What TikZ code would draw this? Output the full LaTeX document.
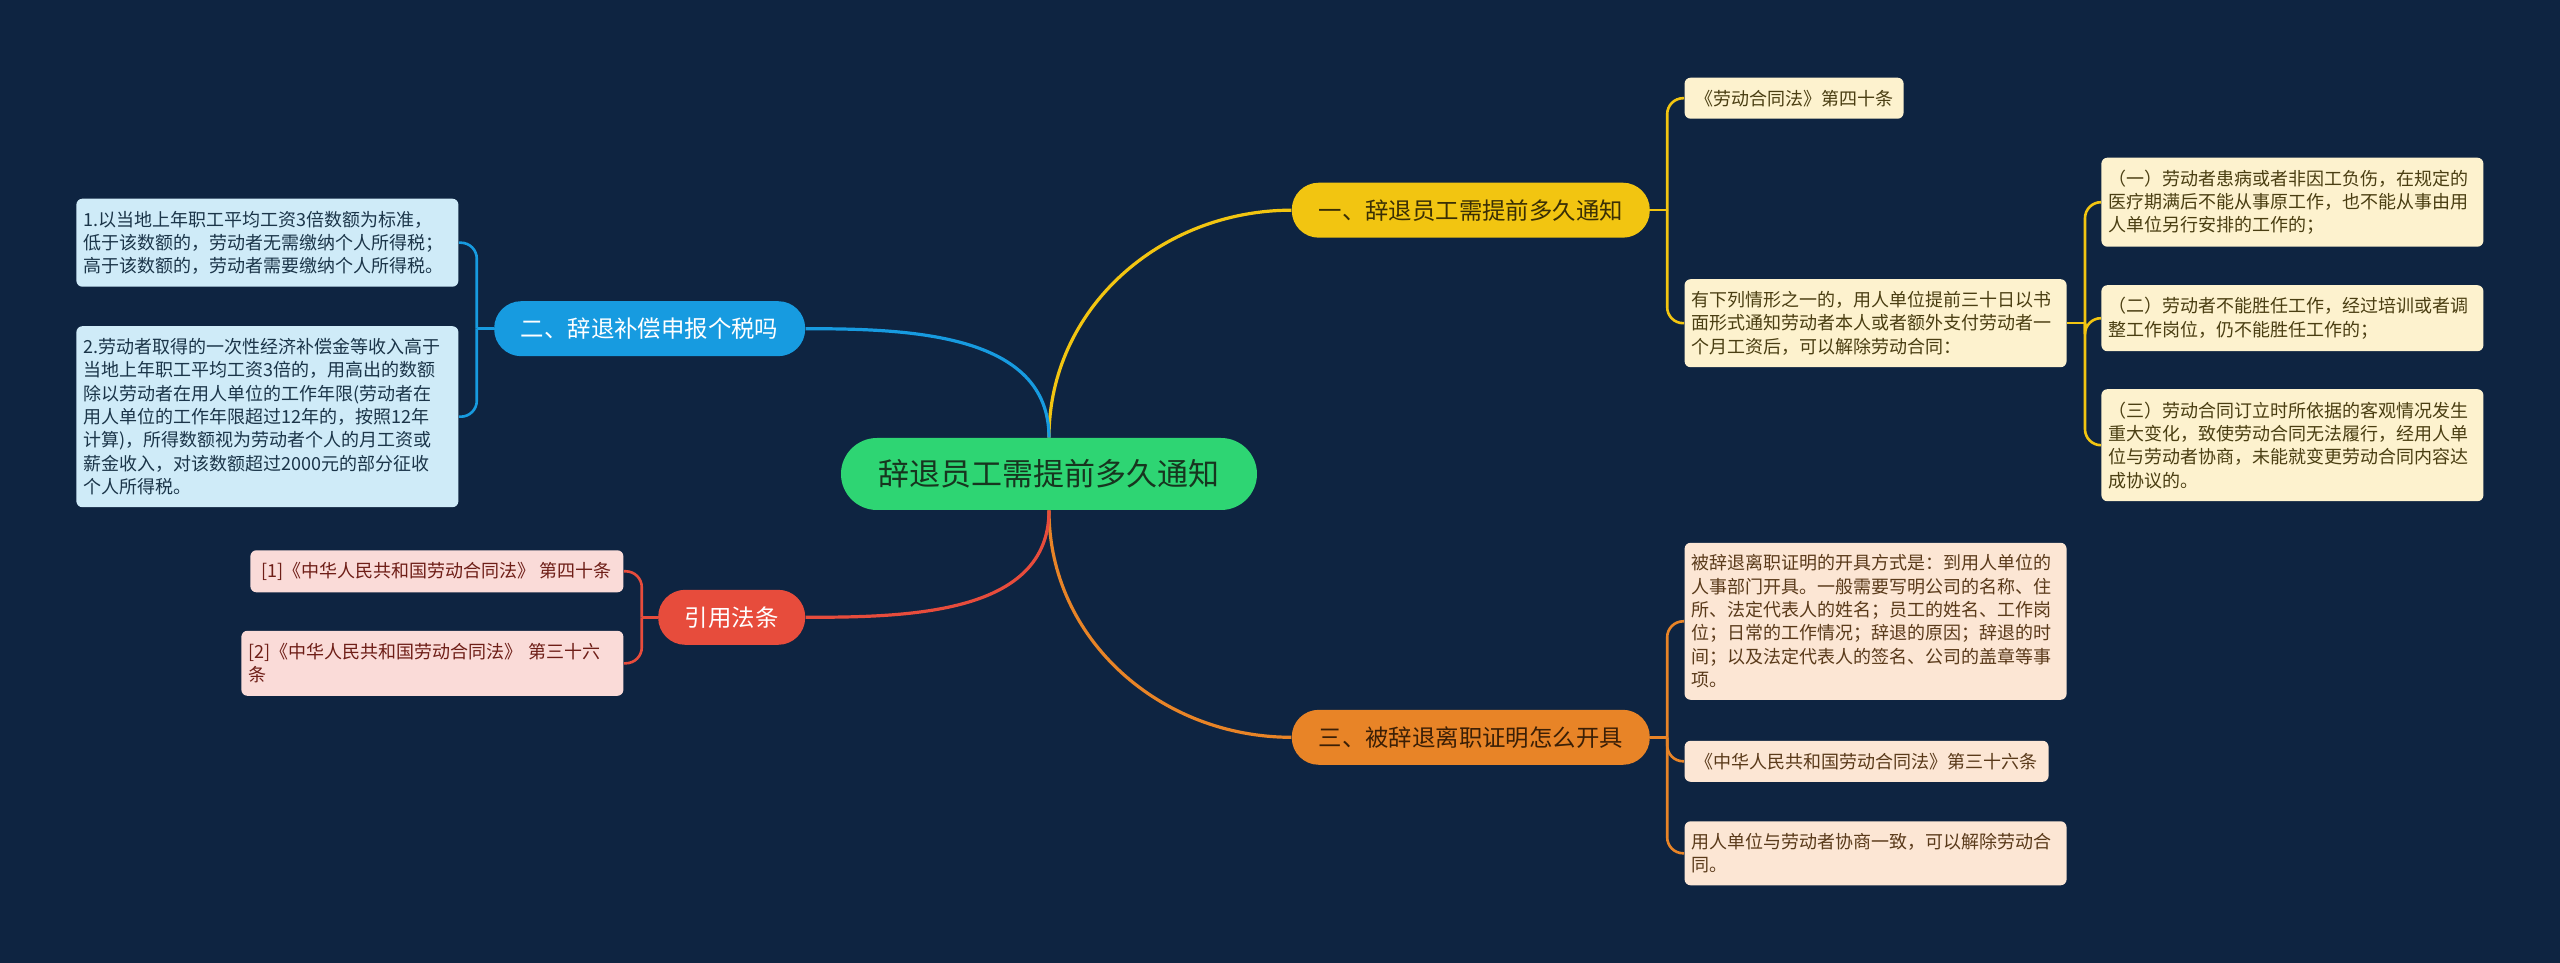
\documentclass[tikz,border=0pt]{standalone}
\usepackage{fontspec}
\setmainfont{Noto Sans CJK SC}
\usepackage{xcolor}
\usetikzlibrary{positioning}
\definecolor{bgnavy}{HTML}{0E2441}
\definecolor{rootgreen}{HTML}{2ED573}
\definecolor{roottext}{HTML}{17351F}
\definecolor{ybranch}{HTML}{F2C511}
\definecolor{obranch}{HTML}{E88427}
\definecolor{bbranch}{HTML}{179BE0}
\definecolor{rbranch}{HTML}{E74C3C}
\definecolor{ybtext}{HTML}{3A2F05}
\definecolor{obtext}{HTML}{3B1F06}
\definecolor{yleaffill}{HTML}{FDF2CE}
\definecolor{yleaftext}{HTML}{4A3E12}
\definecolor{oleaffill}{HTML}{FCE6D4}
\definecolor{oleaftext}{HTML}{5A3A1A}
\definecolor{bleaffill}{HTML}{CFEBF8}
\definecolor{bleaftext}{HTML}{1B3549}
\definecolor{rleaffill}{HTML}{FADBD8}
\definecolor{rleaftext}{HTML}{6E1E17}

\begin{document}
\begin{tikzpicture}[
    every node/.style={align=center},
    rootnode/.style={fill=rootgreen, text=roottext, rounded corners=18pt, minimum width=208pt, minimum height=36pt, font=\fontsize{15.5}{18}\selectfont},
    branch/.style={rounded corners=13.5pt, minimum height=27.5pt, font=\fontsize{11.7}{14}\selectfont},
    leaf/.style={rounded corners=3pt, align=left, inner xsep=3.5pt, inner ysep=3pt, font=\fontsize{9}{11.67}\selectfont},
    wide/.style={text width=184pt},
    yleaf/.style={leaf, fill=yleaffill, text=yleaftext},
    oleaf/.style={leaf, fill=oleaffill, text=oleaftext},
    bleaf/.style={leaf, fill=bleaffill, text=bleaftext},
    rleaf/.style={leaf, fill=rleaffill, text=rleaftext},
    trunk/.style={line width=1.6pt},
    twig/.style={line width=1.3pt, rounded corners=8pt}
]
\fill[bgnavy] (-524.5pt,-244.5pt) rectangle (755.5pt,237pt);
\useasboundingbox (-524.5pt,-244.5pt) rectangle (755.5pt,237pt);

\node (root) [rootnode] at (0,0) {辞退员工需提前多久通知};

\node (yb) [branch, fill=ybranch, text=ybtext, minimum width=179pt, above right=99.75pt and 17pt of root] {一、辞退员工需提前多久通知};
\node (ob) [branch, fill=obranch, text=obtext, minimum width=179pt, below right=99.5pt and 17pt of root] {三、被辞退离职证明怎么开具};
\node (bb) [branch, fill=bbranch, text=white, minimum width=155.5pt, above left=40.5pt and 17.5pt of root] {二、辞退补偿申报个税吗};
\node (rb) [branch, fill=rbranch, text=white, minimum width=73.5pt, below left=39.5pt and 17.5pt of root] {引用法条};

\node (y1) [yleaf, minimum width=109.5pt, minimum height=20.5pt, right=17pt of yb.east, yshift=56pt] {《劳动合同法》第四十条};
\node (y2) [yleaf, wide, minimum height=44pt, right=17pt of yb.east, yshift=-56.5pt] {有下列情形之一的，用人单位提前三十日以书\\面形式通知劳动者本人或者额外支付劳动者一\\个月工资后，可以解除劳动合同：};
\node (s1) [yleaf, wide, minimum height=44.5pt, right=17pt of y2.east, yshift=60.5pt] {（一）劳动者患病或者非因工负伤，在规定的\\医疗期满后不能从事原工作，也不能从事由用\\人单位另行安排的工作的；};
\node (s2) [yleaf, wide, minimum height=33pt, right=17pt of y2.east, yshift=2.5pt] {（二）劳动者不能胜任工作，经过培训或者调\\整工作岗位，仍不能胜任工作的；};
\node (s3) [yleaf, wide, minimum height=56pt, right=17pt of y2.east, yshift=-61pt] {（三）劳动合同订立时所依据的客观情况发生\\重大变化，致使劳动合同无法履行，经用人单\\位与劳动者协商，未能就变更劳动合同内容达\\成协议的。};

\node (o1) [oleaf, wide, minimum height=78.5pt, right=17pt of ob.east, yshift=58pt] {被辞退离职证明的开具方式是：到用人单位的\\人事部门开具。一般需要写明公司的名称、住\\所、法定代表人的姓名；员工的姓名、工作岗\\位；日常的工作情况；辞退的原因；辞退的时\\间；以及法定代表人的签名、公司的盖章等事\\项。};
\node (o2) [oleaf, minimum width=182pt, minimum height=20.5pt, right=17pt of ob.east, yshift=-12pt] {《中华人民共和国劳动合同法》第三十六条};
\node (o3) [oleaf, wide, minimum height=32pt, right=17pt of ob.east, yshift=-58pt] {用人单位与劳动者协商一致，可以解除劳动合\\同。};

\node (b1) [bleaf, wide, minimum height=44pt, left=17.5pt of bb.west, yshift=43pt] {1.以当地上年职工平均工资3倍数额为标准，\\低于该数额的，劳动者无需缴纳个人所得税；\\高于该数额的，劳动者需要缴纳个人所得税。};
\node (b2) [bleaf, wide, minimum height=90.5pt, left=17.5pt of bb.west, yshift=-44pt] {2.劳动者取得的一次性经济补偿金等收入高于\\当地上年职工平均工资3倍的，用高出的数额\\除以劳动者在用人单位的工作年限(劳动者在\\用人单位的工作年限超过12年的，按照12年\\计算)，所得数额视为劳动者个人的月工资或\\薪金收入，对该数额超过2000元的部分征收\\个人所得税。};

\node (r1) [rleaf, minimum width=186.5pt, minimum height=21pt, left=17pt of rb.west, yshift=23pt] {[1]《中华人民共和国劳动合同法》 第四十条};
\node (r2) [rleaf, wide, minimum height=32.5pt, left=17pt of rb.west, yshift=-23pt] {[2]《中华人民共和国劳动合同法》 第三十六\\条};

\draw[trunk, ybranch] (root.north) to[out=90, in=180] (yb.west);
\draw[trunk, bbranch] (root.north) to[out=90, in=0] (bb.east);
\draw[trunk, obranch] (root.south) to[out=-90, in=180] (ob.west);
\draw[trunk, rbranch] (root.south) to[out=-90, in=0] (rb.east);

\draw[twig, ybranch] (yb.east) -- ++(8.5pt,0) coordinate (yj);
\draw[twig, ybranch] (yj) |- (y1.west);
\draw[twig, ybranch] (yj) |- (y2.west);
\draw[twig, ybranch] (y2.east) -- ++(9pt,0) coordinate (sj);
\draw[twig, ybranch] (sj) |- (s1.west);
\draw[twig, ybranch] (sj) |- (s2.west);
\draw[twig, ybranch] (sj) |- (s3.west);

\draw[twig, obranch] (ob.east) -- ++(8.5pt,0) coordinate (oj);
\draw[twig, obranch] (oj) |- (o1.west);
\draw[twig, obranch] (oj) |- (o2.west);
\draw[twig, obranch] (oj) |- (o3.west);

\draw[twig, bbranch] (bb.west) -- ++(-8.5pt,0) coordinate (bj);
\draw[twig, bbranch] (bj) |- (b1.east);
\draw[twig, bbranch] (bj) |- (b2.east);

\draw[twig, rbranch] (rb.west) -- ++(-8pt,0) coordinate (rj);
\draw[twig, rbranch] (rj) |- (r1.east);
\draw[twig, rbranch] (rj) |- (r2.east);
\end{tikzpicture}
\end{document}
